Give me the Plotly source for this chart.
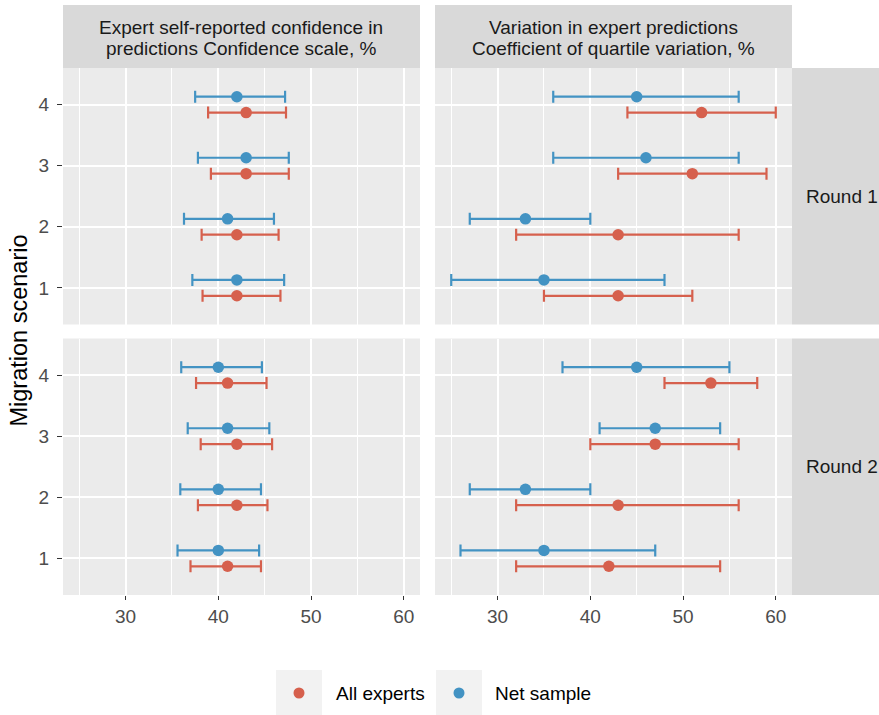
import plotly.graph_objects as go

# ---------------- data ----------------
scenarios = [1, 2, 3, 4]
scenario_labels = ["1", "2", "3", "4"]
x_ticks = [30, 40, 50, 60]
group_names = ["All experts", "Net sample"]
group_colors = ["#D6604D", "#4393C3"]
panel_titles = ["Expert self-reported confidence in", "predictions Confidence scale, %",
                "Variation in expert predictions", "Coefficient of quartile variation, %"]
round_labels = ["Round 1", "Round 2"]

# Confidence scale, Round 1
conf_r1_all_mid = [42, 42, 43, 43]
conf_r1_all_lo = [38.3, 38.2, 39.2, 38.9]
conf_r1_all_hi = [46.7, 46.5, 47.6, 47.3]
conf_r1_net_mid = [42, 41, 43, 42]
conf_r1_net_lo = [37.2, 36.3, 37.8, 37.5]
conf_r1_net_hi = [47.1, 46.0, 47.6, 47.2]
# Confidence scale, Round 2
conf_r2_all_mid = [41, 42, 42, 41]
conf_r2_all_lo = [37.0, 37.8, 38.1, 37.6]
conf_r2_all_hi = [44.6, 45.3, 45.8, 45.2]
conf_r2_net_mid = [40, 40, 41, 40]
conf_r2_net_lo = [35.6, 35.9, 36.7, 36.0]
conf_r2_net_hi = [44.4, 44.6, 45.5, 44.7]
# Coefficient of quartile variation, Round 1
var_r1_all_mid = [43, 43, 51, 52]
var_r1_all_lo = [35, 32, 43, 44]
var_r1_all_hi = [51, 56, 59, 60]
var_r1_net_mid = [35, 33, 46, 45]
var_r1_net_lo = [25, 27, 36, 36]
var_r1_net_hi = [48, 40, 56, 56]
# Coefficient of quartile variation, Round 2
var_r2_all_mid = [42, 43, 47, 53]
var_r2_all_lo = [32, 32, 40, 48]
var_r2_all_hi = [54, 56, 56, 58]
var_r2_net_mid = [35, 33, 47, 45]
var_r2_net_lo = [26, 27, 41, 37]
var_r2_net_hi = [47, 40, 54, 55]

# ---------------- layout geometry ----------------
W, H = 879, 715
FONT = "Liberation Sans, Arial, sans-serif"


def px(x):
    return x / W


def py(y):
    return 1 - y / H


col_dom = [[px(63), px(420)], [px(435), px(792)]]
row_dom = [[py(324.5), py(68)], [py(595), py(338.5)]]
offsets = [-0.13, 0.13]  # dodge: All experts below, Net sample above

panels = [
    ("", 0, 0, [(conf_r1_all_mid, conf_r1_all_lo, conf_r1_all_hi),
                (conf_r1_net_mid, conf_r1_net_lo, conf_r1_net_hi)]),
    ("2", 1, 0, [(var_r1_all_mid, var_r1_all_lo, var_r1_all_hi),
                 (var_r1_net_mid, var_r1_net_lo, var_r1_net_hi)]),
    ("3", 0, 1, [(conf_r2_all_mid, conf_r2_all_lo, conf_r2_all_hi),
                 (conf_r2_net_mid, conf_r2_net_lo, conf_r2_net_hi)]),
    ("4", 1, 1, [(var_r2_all_mid, var_r2_all_lo, var_r2_all_hi),
                 (var_r2_net_mid, var_r2_net_lo, var_r2_net_hi)]),
]

fig = go.Figure()
layout = {}
for suf, c, r, series in panels:
    for g, (mid, lo, hi) in enumerate(series):
        fig.add_trace(go.Scatter(
            x=mid,
            y=[s + offsets[g] for s in scenarios],
            mode="markers",
            marker=dict(color=group_colors[g], size=11.5, line=dict(width=0)),
            error_x=dict(type="data", symmetric=False,
                         array=[h - m for h, m in zip(hi, mid)],
                         arrayminus=[m - l for m, l in zip(mid, lo)],
                         color=group_colors[g], thickness=2.2, width=6),
            name=group_names[g], showlegend=False,
            xaxis="x" + suf, yaxis="y" + suf, hoverinfo="skip",
        ))
    bottom = r == 1
    left = c == 0
    layout["xaxis" + suf] = dict(
        domain=col_dom[c], anchor="y" + suf, range=[23.25, 61.75],
        tickvals=x_ticks, ticktext=[str(v) for v in x_ticks],
        showticklabels=bottom, ticks="outside" if bottom else "",
        ticklen=4, tickwidth=1.2, tickcolor="#333333",
        tickfont=dict(family=FONT, size=19, color="#4D4D4D"),
        ticklabelstandoff=0,
        showgrid=True, gridcolor="white", gridwidth=2, zeroline=False,
        showline=False,
        minor=dict(dtick=5, tick0=25, showgrid=True, gridcolor="white", gridwidth=1, ticks=""),
    )
    layout["yaxis" + suf] = dict(
        domain=row_dom[r], anchor="x" + suf, range=[0.4, 4.6],
        tickvals=scenarios, ticktext=scenario_labels,
        showticklabels=left, ticks="outside" if left else "",
        ticklen=5, tickwidth=1.2, tickcolor="#333333",
        tickfont=dict(family=FONT, size=19, color="#4D4D4D"),
        ticklabelstandoff=4,
        showgrid=True, gridcolor="white", gridwidth=2, zeroline=False,
        showline=False,
    )

shapes = []
annotations = []
# column strips
for c in range(2):
    shapes.append(dict(type="rect", xref="paper", yref="paper", layer="below",
                       x0=col_dom[c][0], x1=col_dom[c][1], y0=py(68), y1=py(5),
                       fillcolor="#D9D9D9", line=dict(width=0)))
    xc = (col_dom[c][0] + col_dom[c][1]) / 2
    for k, yy in enumerate([27.5, 48.5]):
        annotations.append(dict(text=panel_titles[2 * c + k], xref="paper", yref="paper",
                                x=xc, y=py(yy), xanchor="center", yanchor="middle",
                                showarrow=False,
                                font=dict(family=FONT, size=19, color="#1A1A1A")))
# row strips
for r in range(2):
    shapes.append(dict(type="rect", xref="paper", yref="paper", layer="below",
                       x0=px(792), x1=px(879), y0=row_dom[r][0], y1=row_dom[r][1],
                       fillcolor="#D9D9D9", line=dict(width=0)))
    annotations.append(dict(text=round_labels[r], xref="paper", yref="paper",
                            x=px(804), y=(row_dom[r][0] + row_dom[r][1]) / 2,
                            xanchor="left", yanchor="middle", showarrow=False,
                            font=dict(family=FONT, size=19, color="#1A1A1A")))

# y-axis title
annotations.append(dict(text="Migration scenario", xref="paper", yref="paper",
                        x=px(18.5), y=py(331), xanchor="center", yanchor="middle",
                        textangle=-90, showarrow=False,
                        font=dict(family=FONT, size=23.5, color="black")))

# legend (drawn manually, ggplot style)
leg_key_x = [276, 436]
leg_text_x = [334, 493]
for g in range(2):
    shapes.append(dict(type="rect", xref="paper", yref="paper",
                       x0=px(leg_key_x[g]), x1=px(leg_key_x[g] + 46),
                       y0=py(716), y1=py(670), fillcolor="#F2F2F2", line=dict(width=0)))
    cx = leg_key_x[g] + 23
    shapes.append(dict(type="circle", xref="paper", yref="paper",
                       x0=px(cx - 5.5), x1=px(cx + 5.5), y0=py(693 + 5.5), y1=py(693 - 5.5),
                       fillcolor=group_colors[g], line=dict(width=0)))
    annotations.append(dict(text=group_names[g], xref="paper", yref="paper",
                            x=px(leg_text_x[g]), y=py(693), xanchor="left", yanchor="middle",
                            showarrow=False, font=dict(family=FONT, size=19, color="black")))

fig.update_layout(
    width=W, height=H, autosize=False,
    margin=dict(l=0, r=0, t=0, b=0),
    paper_bgcolor="white", plot_bgcolor="#EBEBEB",
    showlegend=False,
    shapes=shapes, annotations=annotations,
    **layout,
)

fig.write_html("out.html")
